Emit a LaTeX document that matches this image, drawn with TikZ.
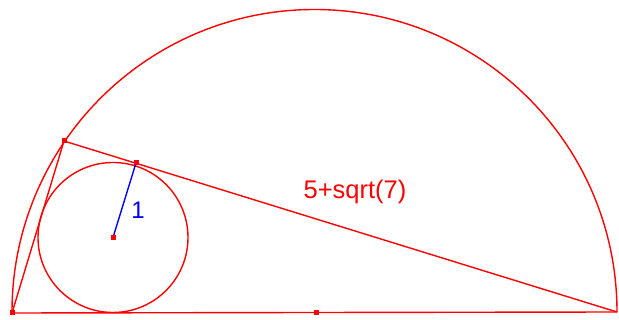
\documentclass[tikz,border=0pt]{standalone}
\usepackage{fontspec}
\setmainfont{Liberation Sans}
\begin{document}
\begin{tikzpicture}[x=1pt,y=-1pt,
  geo/.style={draw=red,line width=1.4pt},
  rad/.style={draw=blue,line width=1.4pt},
  pt/.style={fill=red,minimum size=5pt,inner sep=0pt,outer sep=0pt,rectangle},
  lab/.style={font=\fontsize{25.5}{30}\selectfont},
  labs/.style={font=\fontsize{24}{28}\selectfont}]
\useasboundingbox (0,0) rectangle (619,320);
\coordinate (A) at (12,313);
\coordinate (B) at (617,312);
\coordinate (O) at (314.5,312.5);
\coordinate (P) at (64,141);
\coordinate (T) at (136,163);
\coordinate (C) at (113,237.5);
\draw[geo] (B) arc[start angle=0,end angle=-180,radius=302.5];
\draw[geo] (A) -- (B);
\draw[geo] (A) -- (P) -- (B);
\draw[geo] (C) circle[radius=75];
\draw[rad] (C) -- (T);
\node[pt] (a) at (A) {};
\node[pt] (o) at (316,312.3) {};
\node[pt] (p) at (P) {};
\node[pt] (t) at (T) {};
\node[pt] (c) at (C) {};
\node[lab,text=red] (l1) at (355,192) {5+sqrt(7)};
\node[labs,text=blue] (l2) at (138,210) {1};
\end{tikzpicture}
\end{document}
